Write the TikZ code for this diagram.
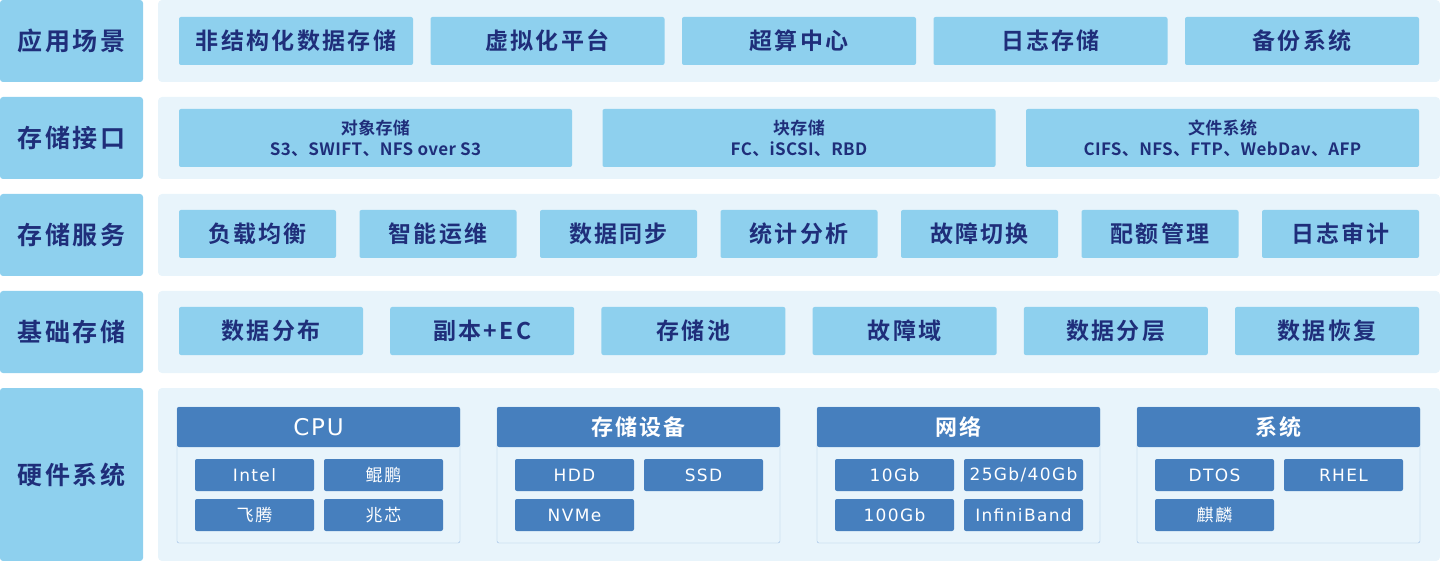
\documentclass[tikz,border=0pt]{standalone}
\usepackage{fontspec}
\usepackage{xcolor}
\usepackage{tikz}
\usetikzlibrary{positioning}
\setmainfont{Noto Sans CJK SC}[BoldFont={Noto Sans CJK SC Bold},LetterSpace=10]
\newfontfamily\ifacefont{Noto Sans CJK SC}[BoldFont={Noto Sans CJK SC Bold},LetterSpace=2]
\newfontfamily\hwfont{DejaVu Sans}[LetterSpace=8]
\definecolor{LayerBlue}{HTML}{8ED0EE}
\definecolor{PanelBlue}{HTML}{E8F4FB}
\definecolor{TextNavy}{HTML}{1F2E7A}
\definecolor{HwBlue}{HTML}{467FBE}
\definecolor{HwLine}{HTML}{9CBDE3}

\begin{document}
\begin{tikzpicture}[x=1pt, y=-1pt,
                    every node/.style={inner sep=0pt, outer sep=0pt, align=center},
                    layer/.style={fill=LayerBlue, rounded corners=3pt, minimum width=143pt,
                                  minimum height=82pt, text=TextNavy,
                                  font=\bfseries\fontsize{25}{28}\selectfont},
                    panel/.style={fill=PanelBlue, rounded corners=4pt, minimum width=1282pt,
                                  minimum height=82pt},
                    item/.style={fill=LayerBlue, rounded corners=2pt, minimum height=48pt,
                                 text=TextNavy, font=\bfseries\fontsize{23}{26}\selectfont},
                    iface/.style={item, minimum width=393pt, minimum height=58pt,
                                  font=\ifacefont\bfseries\fontsize{17}{21}\selectfont},
                    group/.style={draw=HwLine, fill=PanelBlue, rounded corners=2pt,
                                  minimum width=283pt, minimum height=136pt},
                    grouphead/.style={fill=HwBlue, rounded corners=2pt, minimum width=283pt,
                                      minimum height=40pt, text=white, anchor=north},
                    hwitem/.style={fill=HwBlue, rounded corners=2pt, minimum width=119pt,
                                   minimum height=32pt, text=white,
                                   font=\hwfont\fontsize{17}{20}\selectfont}]
\useasboundingbox (0,0) rectangle (1440,561);

% layer labels and panels
\node[layer, anchor=north west] (scene) at (0,0) {应用场景};
\node[layer, below=15pt of scene] (iface) {存储接口};
\node[layer, below=15pt of iface] (service) {存储服务};
\node[layer, below=15pt of service] (base) {基础存储};
\node[layer, below=15pt of base, minimum height=173pt] (hw) {硬件系统};
\node[panel, right=15pt of scene] (scenep) {};
\node[panel, right=15pt of iface] (ifacep) {};
\node[panel, right=15pt of service] (servicep) {};
\node[panel, right=15pt of base] (basep) {};
\node[panel, right=15pt of hw, minimum height=173pt] (hwp) {};

% application scenes
\node[item, minimum width=234pt, anchor=north west] (app1) at (179,17) {非结构化数据存储};
\node[item, minimum width=234pt, right=17.5pt of app1] (app2) {虚拟化平台};
\node[item, minimum width=234pt, right=17.5pt of app2] (app3) {超算中心};
\node[item, minimum width=234pt, right=17.5pt of app3] (app4) {日志存储};
\node[item, minimum width=234pt, right=17.5pt of app4] (app5) {备份系统};

% storage interfaces
\node[iface, anchor=north west] (obj) at (179,109) {对象存储\\S3、SWIFT、NFS over S3};
\node[iface, right=30.5pt of obj] (blk) {块存储\\FC、iSCSI、RBD};
\node[iface, right=30.5pt of blk] (fs) {文件系统\\CIFS、NFS、FTP、WebDav、AFP};

% storage services
\node[item, minimum width=157pt, anchor=north west] (srv1) at (179,210) {负载均衡};
\node[item, minimum width=157pt, right=23.5pt of srv1] (srv2) {智能运维};
\node[item, minimum width=157pt, right=23.5pt of srv2] (srv3) {数据同步};
\node[item, minimum width=157pt, right=23.5pt of srv3] (srv4) {统计分析};
\node[item, minimum width=157pt, right=23.5pt of srv4] (srv5) {故障切换};
\node[item, minimum width=157pt, right=23.5pt of srv5] (srv6) {配额管理};
\node[item, minimum width=157pt, right=23.5pt of srv6] (srv7) {日志审计};

% base storage
\node[item, minimum width=184pt, anchor=north west] (bs1) at (179,307) {数据分布};
\node[item, minimum width=184pt, right=27.2pt of bs1] (bs2) {副本+EC};
\node[item, minimum width=184pt, right=27.2pt of bs2] (bs3) {存储池};
\node[item, minimum width=184pt, right=27.2pt of bs3] (bs4) {故障域};
\node[item, minimum width=184pt, right=27.2pt of bs4] (bs5) {数据分层};
\node[item, minimum width=184pt, right=27.2pt of bs5] (bs6) {数据恢复};

% hardware groups
\node[group, anchor=north west] (cpu) at (177,407) {};
\node[group, right=37pt of cpu] (disk) {};
\node[group, right=37pt of disk] (net) {};
\node[group, right=37pt of net] (os) {};
\node[grouphead, font=\hwfont\fontsize{23}{26}\selectfont] (cpuh) at (cpu.north) {CPU};
\node[grouphead, font=\bfseries\fontsize{22}{26}\selectfont] (diskh) at (disk.north) {存储设备};
\node[grouphead, font=\bfseries\fontsize{22}{26}\selectfont] (neth) at (net.north) {网络};
\node[grouphead, font=\bfseries\fontsize{22}{26}\selectfont] (osh) at (os.north) {系统};

\node[hwitem, below right=52pt and 18pt of cpu.north west] (intel) {Intel};
\node[hwitem, right=10pt of intel, font=\fontsize{17}{20}\selectfont] (kunpeng) {鲲鹏};
\node[hwitem, below=8pt of intel, font=\fontsize{17}{20}\selectfont] (feiteng) {飞腾};
\node[hwitem, right=10pt of feiteng, font=\fontsize{17}{20}\selectfont] (zhaoxin) {兆芯};

\node[hwitem, below right=52pt and 18pt of disk.north west] (hdd) {HDD};
\node[hwitem, right=10pt of hdd] (ssd) {SSD};
\node[hwitem, below=8pt of hdd] (nvme) {NVMe};

\node[hwitem, below right=52pt and 18pt of net.north west] (g10) {10Gb};
\node[hwitem, right=10pt of g10] (g25) {25Gb/40Gb};
\node[hwitem, below=8pt of g10] (g100) {100Gb};
\node[hwitem, right=10pt of g100] (ib) {InfiniBand};

\node[hwitem, below right=52pt and 18pt of os.north west] (dtos) {DTOS};
\node[hwitem, right=10pt of dtos] (rhel) {RHEL};
\node[hwitem, below=8pt of dtos, font=\fontsize{17}{20}\selectfont] (kylin) {麒麟};
\end{tikzpicture}
\end{document}
